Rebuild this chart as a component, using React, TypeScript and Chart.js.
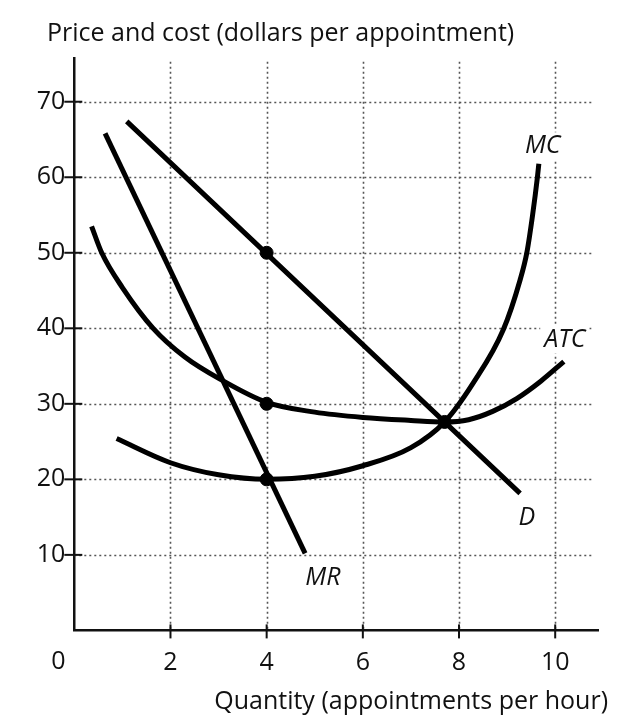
import React, { useEffect, useRef } from 'react';
import { Chart, registerables } from 'chart.js';

Chart.register(...registerables);

// ---- data ----
const xTicks = [2, 4, 6, 8, 10];
const yTicks = [10, 20, 30, 40, 50, 60, 70];

const demandQ = [1.09, 9.27];
const demandP = [67.4, 18.15];

const mrQ = [0.64, 4.8];
const mrP = [65.8, 10.2];

const atcQ = [0.36, 0.57, 1, 1.64, 2.3, 3.05, 4, 5, 6, 7, 7.7, 8.2, 8.7, 9.2, 9.7, 10.18];
const atcP = [53.5, 50, 45.4, 40, 36.2, 33.2, 30.2, 28.9, 28.2, 27.8, 27.6, 27.9, 29.0, 30.7, 33.0, 35.6];

const mcQ = [0.88, 2, 3, 4, 5, 6, 7, 7.7, 8.3, 8.92, 9.27, 9.41, 9.53, 9.63, 9.66];
const mcP = [25.4, 22.2, 20.6, 20.0, 20.4, 21.8, 24.2, 27.6, 32.8, 39.8, 46.4, 50, 55, 60, 61.8];

const dotQ = [4, 4, 4, 7.7];
const dotP = [50, 30, 20, 27.6];

const curveLabels = ['MC', 'ATC', 'D', 'MR'];
const labelQ = [9.74, 10.2, 9.41, 5.17];
const labelP = [64.1, 38.5, 14.9, 6.95];

const yTitle = 'Price and cost (dollars per appointment)';
const xTitle = 'Quantity (appointments per hour)';
const originLabel = '0';

const FONT = '"Open Sans", Lato, sans-serif';
const FS = 25;

const pts = (q: number[], p: number[]) => q.map((v, i) => ({ x: v, y: p[i] }));

const overlay = {
  id: 'overlay',
  beforeDatasetsDraw(chart: any) {
    const { ctx, scales } = chart;
    const x = scales.x;
    const y = scales.y;
    const x0 = x.getPixelForValue(0);
    const y0 = y.getPixelForValue(0);
    const xEnd = x.getPixelForValue(10.78);
    const yTop = y.getPixelForValue(75.3);
    ctx.save();
    ctx.strokeStyle = '#555';
    ctx.lineWidth = 1.6;
    ctx.setLineDash([2, 3]);
    yTicks.forEach((v) => {
      const py = Math.round(y.getPixelForValue(v)) + 0.5;
      ctx.beginPath();
      ctx.moveTo(x0, py);
      ctx.lineTo(xEnd, py);
      ctx.stroke();
    });
    xTicks.forEach((v) => {
      const px = Math.round(x.getPixelForValue(v)) + 0.5;
      ctx.beginPath();
      ctx.moveTo(px, yTop);
      ctx.lineTo(px, y0);
      ctx.stroke();
    });
    ctx.setLineDash([]);
    ctx.strokeStyle = '#111';
    ctx.lineWidth = 2;
    yTicks.forEach((v) => {
      const py = y.getPixelForValue(v);
      ctx.beginPath();
      ctx.moveTo(x0 - 10, py);
      ctx.lineTo(x0 + 8, py);
      ctx.stroke();
    });
    xTicks.forEach((v) => {
      const px = x.getPixelForValue(v);
      ctx.beginPath();
      ctx.moveTo(px, y0 - 6);
      ctx.lineTo(px, y0 + 8);
      ctx.stroke();
    });
    ctx.restore();
  },
  afterDatasetsDraw(chart: any) {
    const { ctx, scales } = chart;
    const x = scales.x;
    const y = scales.y;
    ctx.save();
    ctx.font = `italic ${FS}px ${FONT}`;
    ctx.textAlign = 'center';
    ctx.textBaseline = 'middle';
    curveLabels.forEach((t, i) => {
      const px = x.getPixelForValue(labelQ[i]);
      const py = y.getPixelForValue(labelP[i]);
      const w = ctx.measureText(t).width;
      ctx.fillStyle = '#fff';
      ctx.fillRect(px - w / 2 - 4, py - 14, w + 8, 28);
      ctx.fillStyle = '#111';
      ctx.fillText(t, px, py);
    });
    ctx.font = `${FS}px ${FONT}`;
    ctx.textAlign = 'left';
    ctx.fillText(yTitle, 47, 34);
    ctx.textAlign = 'right';
    ctx.fillText(xTitle, 608, 702);
    ctx.textAlign = 'center';
    ctx.fillText(originLabel, x.getPixelForValue(0) - 16, 662);
    ctx.restore();
  },
};

export default function App() {
  const ref = useRef<HTMLCanvasElement>(null);
  useEffect(() => {
    document.body.style.margin = '0';
    const lineDs = (q: number[], p: number[]) => ({
      data: pts(q, p),
      borderColor: '#000',
      borderWidth: 5,
      pointRadius: 0,
      fill: false,
      cubicInterpolationMode: 'monotone' as const,
      borderCapStyle: 'butt' as const,
    });
    const chart = new Chart(ref.current!, {
      type: 'line',
      data: {
        datasets: [
          lineDs(demandQ, demandP),
          lineDs(mrQ, mrP),
          lineDs(atcQ, atcP),
          lineDs(mcQ, mcP),
          {
            data: pts(dotQ, dotP),
            showLine: false,
            pointRadius: 6.5,
            pointBackgroundColor: '#000',
            pointBorderColor: '#000',
            borderColor: '#000',
          } as any,
        ],
      },
      options: {
        animation: false,
        responsive: false,
        maintainAspectRatio: false,
        devicePixelRatio: 1,
        layout: { padding: { top: 58, right: 35, left: 0, bottom: 0 } },
        plugins: { legend: { display: false }, tooltip: { enabled: false }, title: { display: false } },
        scales: {
          x: {
            type: 'linear',
            min: 0,
            max: 10.89,
            afterFit: (s: any) => { s.height = 97.6; },
            afterBuildTicks: (s: any) => { s.ticks = xTicks.map((v) => ({ value: v })); },
            grid: { display: false, drawTicks: false },
            border: { display: true, color: '#111', width: 2.5 },
            ticks: { color: '#111', font: { family: FONT, size: FS }, padding: 17, maxRotation: 0, autoSkip: false },
          },
          y: {
            type: 'linear',
            min: 0,
            max: 75.79,
            afterFit: (s: any) => { s.width = 74.3; },
            afterBuildTicks: (s: any) => { s.ticks = yTicks.map((v) => ({ value: v })); },
            grid: { display: false, drawTicks: false },
            border: { display: true, color: '#111', width: 2.5 },
            ticks: { color: '#111', font: { family: FONT, size: FS }, padding: 9, autoSkip: false },
          },
        },
      },
      plugins: [overlay],
    });
    return () => chart.destroy();
  }, []);
  return (
    <div style={{ width: 633, height: 728 }}>
      <canvas ref={ref} width={633} height={728} style={{ display: 'block' }} />
    </div>
  );
}
